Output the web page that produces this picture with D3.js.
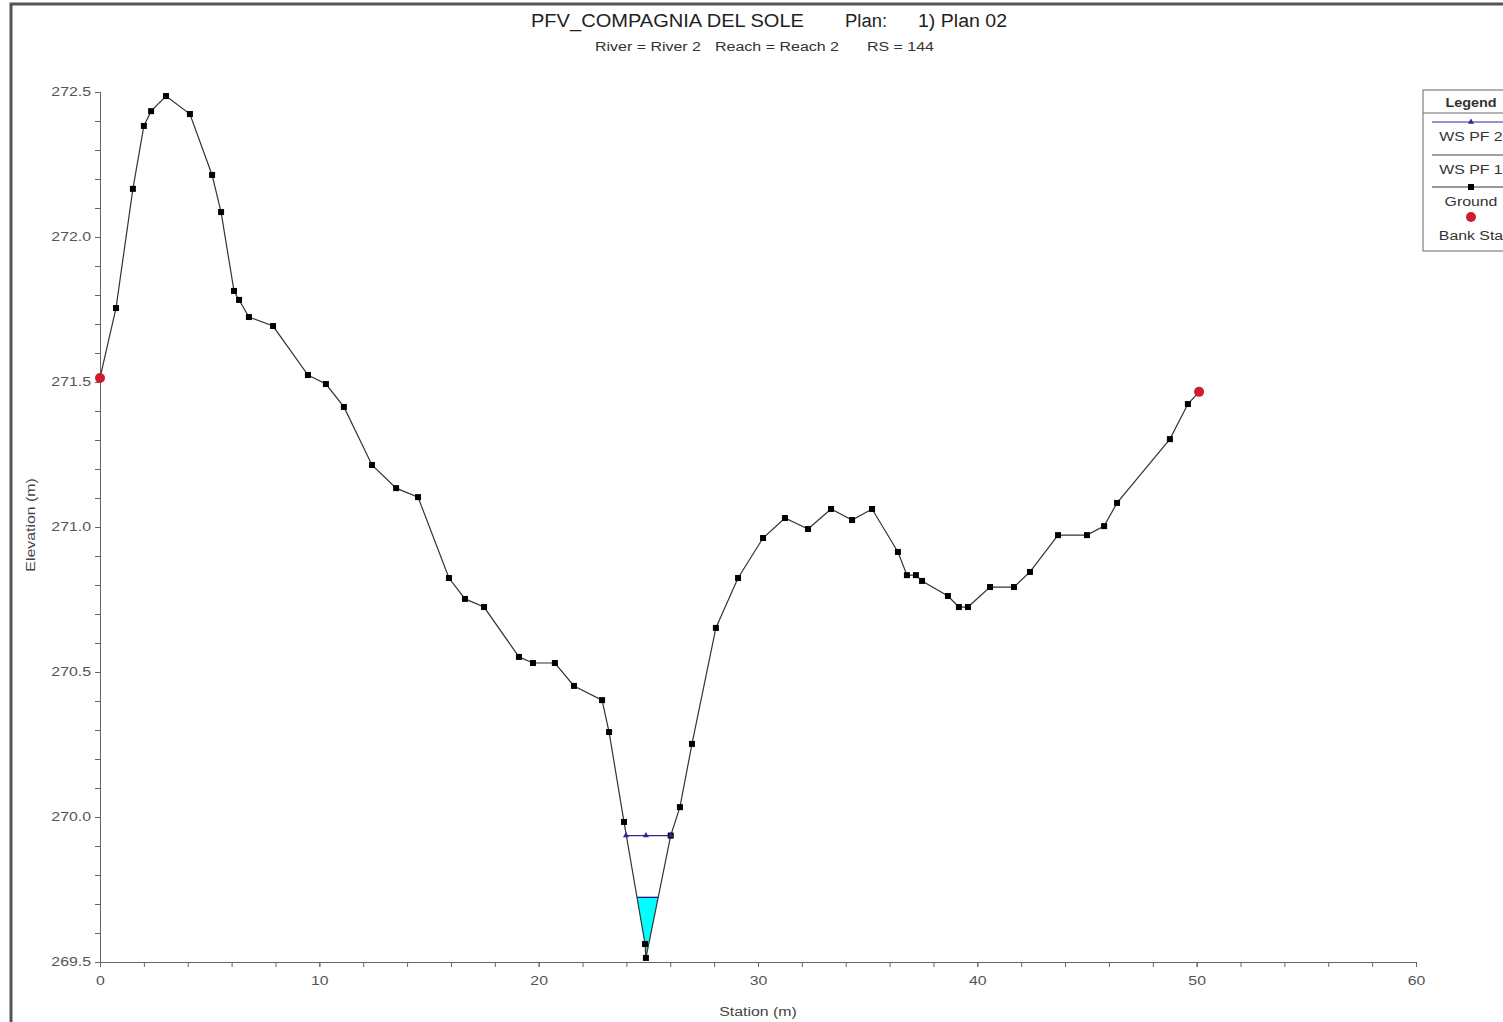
<!DOCTYPE html>
<html><head><meta charset="utf-8">
<script src="https://cdn.jsdelivr.net/npm/d3@7"></script>
<style>
html,body{margin:0;padding:0;background:#fff;}
svg{display:block;font-family:"Liberation Sans",Arial,sans-serif;}
</style></head>
<body>
<svg id="c" width="1503" height="1022"></svg>
<script>
// ---- data ----
const groundStation = [0,0.73,1.50,2.00,2.33,3.01,4.10,5.11,5.52,6.11,6.34,6.79,7.89,9.48,10.30,11.12,12.40,13.50,14.50,15.91,16.64,17.51,19.10,19.74,20.74,21.61,22.89,23.21,23.89,24.85,24.89,26.02,26.44,26.99,28.08,29.09,30.23,31.23,32.28,33.33,34.29,35.20,36.38,36.79,37.20,37.48,38.66,39.16,39.57,40.58,41.67,42.40,43.68,45.00,45.78,46.37,48.78,49.60,50.11];
const groundElev = [271.514,271.755,272.166,272.383,272.434,272.486,272.424,272.214,272.086,271.814,271.783,271.724,271.693,271.524,271.493,271.414,271.214,271.134,271.103,270.824,270.752,270.724,270.552,270.531,270.531,270.452,270.403,270.293,269.983,269.562,269.514,269.936,270.034,270.252,270.652,270.824,270.962,271.031,270.993,271.062,271.024,271.062,270.914,270.834,270.834,270.814,270.762,270.724,270.724,270.793,270.793,270.845,270.972,270.972,271.003,271.083,271.303,271.424,271.466];
const bankStation = [0, 50.11];
const bankElev = [271.514, 271.466];
const wsPF2Station = [23.98, 24.89, 26.02];
const wsPF2Elev = 269.936;
const wsPF1Elev = 269.723;
const xTicks = [0,10,20,30,40,50,60];
const yTicks = [269.5,270.0,270.5,271.0,271.5,272.0,272.5];
const legendItems = ["WS PF 2","WS PF 1","Ground","Bank Sta"];

// ---- layout ----
const svg = d3.select("#c");
const x = d3.scaleLinear().domain([0,60]).range([100,1416]);
const y = d3.scaleLinear().domain([269.5,272.5]).range([962,92]);
const axisCol = "#666";
const STRETCH = 1.32;
function stretch(sel, f){
  sel.each(function(){
    const w = this.getComputedTextLength();
    if (w > 0) d3.select(this).attr("textLength", w*f).attr("lengthAdjust","spacingAndGlyphs");
  });
}

// frame
svg.append("rect").attr("x",11).attr("y",4).attr("width",1600).attr("height",1100)
  .attr("fill","none").attr("stroke","#555").attr("stroke-width",3);

// titles
const t1 = svg.append("g").attr("font-size",18).attr("fill","#222");
[["PFV_COMPAGNIA DEL SOLE",531,273],["Plan:",845,42],["1) Plan 02",918,89]].forEach(([s,px,w])=>{
  t1.append("text").attr("x",px).attr("y",27).attr("textLength",w).attr("lengthAdjust","spacingAndGlyphs").text(s);
});
const t2 = svg.append("g").attr("font-size",12).attr("fill","#333");
[["River = River 2",595,106],["Reach = Reach 2",715,124],["RS = 144",867,67]].forEach(([s,px,w])=>{
  t2.append("text").attr("x",px).attr("y",51).attr("textLength",w).attr("lengthAdjust","spacingAndGlyphs").text(s);
});

// axes
const xAxis = d3.axisBottom(x).tickValues(xTicks).tickFormat(d3.format("d")).tickSize(5).tickPadding(9);
const xMinor = d3.axisBottom(x).tickValues(d3.range(0,61,2)).tickFormat("").tickSize(5);
const yAxis = d3.axisLeft(y).tickValues(yTicks).tickFormat(d3.format(".1f")).tickSize(5).tickPadding(4);
const yMinor = d3.axisLeft(y).tickValues(d3.range(0,31).map(i=>269.5+i*0.1)).tickFormat("").tickSize(5);

function styleAxis(g){
  g.select(".domain").attr("stroke",axisCol);
  g.selectAll(".tick line").attr("stroke",axisCol);
  g.selectAll("text").attr("fill","#555").attr("font-size",12).attr("font-family","Liberation Sans, Arial, sans-serif");
}
svg.append("g").attr("transform","translate(0,962)").call(xMinor).call(styleAxis);
const gx = svg.append("g").attr("transform","translate(0,962)").call(xAxis).call(styleAxis);
svg.append("g").attr("transform","translate(100,0)").call(yMinor).call(styleAxis);
const gy = svg.append("g").attr("transform","translate(100,0)").call(yAxis).call(styleAxis);
stretch(gx.selectAll("text"), STRETCH);
stretch(gy.selectAll("text"), STRETCH);

const xl = svg.append("text").attr("x",758).attr("y",1016).attr("text-anchor","middle")
  .attr("font-size",12).attr("fill","#444").text("Station (m)");
const yl = svg.append("text").attr("transform","translate(35,525) rotate(-90)").attr("text-anchor","middle")
  .attr("font-size",12).attr("fill","#444").text("Elevation (m)");
stretch(xl, STRETCH); stretch(yl, STRETCH);

// ---- WS PF 1 fill (ground below water surface) ----
const ground = groundStation.map((s,i)=>({s, e: groundElev[i]}));
let poly = [];
for (let i=0;i<ground.length-1;i++){
  const a = ground[i], b = ground[i+1];
  const aw = a.e < wsPF1Elev, bw = b.e < wsPF1Elev;
  if (aw) poly.push(a);
  if (aw !== bw){
    const t = (wsPF1Elev - a.e)/(b.e - a.e);
    poly.push({s: a.s + t*(b.s-a.s), e: wsPF1Elev, edge:true});
  }
}
svg.append("path")
  .attr("d", d3.line().x(d=>x(d.s)).y(d=>y(d.e))(poly) + "Z")
  .attr("fill","#00ffff").attr("stroke","none");
const edges = poly.filter(d=>d.edge);
svg.append("line").attr("x1",x(edges[0].s)).attr("x2",x(edges[edges.length-1].s))
  .attr("y1",y(wsPF1Elev)).attr("y2",y(wsPF1Elev)).attr("stroke","#1a1a80").attr("stroke-width",1.3);

// ---- WS PF 2 ----
const tri = d3.symbol().type(d3.symbolTriangle).size(16);
svg.append("path").attr("d", d3.line().x(d=>x(d)).y(()=>y(wsPF2Elev))(wsPF2Station))
  .attr("fill","none").attr("stroke","#2a2a90").attr("stroke-width",1.2);

// ---- Ground ----
svg.append("path").attr("d", d3.line().x(d=>x(d.s)).y(d=>y(d.e))(ground))
  .attr("fill","none").attr("stroke","#333").attr("stroke-width",1.2);
svg.selectAll(".gm").data(ground).enter().append("rect")
  .attr("x",d=>x(d.s)-3).attr("y",d=>y(d.e)-3).attr("width",6).attr("height",6).attr("fill","#000");

svg.selectAll(".wm").data(wsPF2Station).enter().append("path")
  .attr("d",tri).attr("transform",d=>`translate(${x(d)},${y(wsPF2Elev)})`).attr("fill","#2a2a90");

// ---- Bank stations ----
svg.selectAll(".bm").data(bankStation).enter().append("circle")
  .attr("cx",d=>x(d)).attr("cy",(d,i)=>y(bankElev[i])).attr("r",5).attr("fill","#d01c2c");

// ---- Legend ----
const lg = svg.append("g").attr("font-size",12).attr("fill","#333");
lg.append("rect").attr("x",1423).attr("y",90).attr("width",120).attr("height",161)
  .attr("fill","#fff").attr("stroke","#666").attr("stroke-width",1);
const lh = lg.append("text").attr("x",1471).attr("y",107).attr("text-anchor","middle").attr("font-weight","bold").text("Legend");
lg.append("line").attr("x1",1423).attr("x2",1503).attr("y1",113).attr("y2",113).attr("stroke","#666");
const rowsY = [136,169,201,235];
// WS PF 2
lg.append("line").attr("x1",1432).attr("x2",1503).attr("y1",122).attr("y2",122).attr("stroke","#2a2a90");
lg.append("path").attr("d",tri).attr("transform","translate(1471,122)").attr("fill","#2a2a90");
// WS PF 1
lg.append("line").attr("x1",1432).attr("x2",1503).attr("y1",155).attr("y2",155).attr("stroke","#444");
// Ground
lg.append("line").attr("x1",1432).attr("x2",1503).attr("y1",187).attr("y2",187).attr("stroke","#333");
lg.append("rect").attr("x",1468).attr("y",184).attr("width",6).attr("height",6).attr("fill","#000");
// Bank
lg.append("circle").attr("cx",1471).attr("cy",217).attr("r",5).attr("fill","#d01c2c");
const lt = legendItems.map((t,i)=>
  lg.append("text").attr("x",1471).attr("y",rowsY[i]+5).attr("text-anchor","middle").text(t));
stretch(lh, 1.2);
lt.forEach(s=>stretch(s, STRETCH));
</script>
</body></html>
